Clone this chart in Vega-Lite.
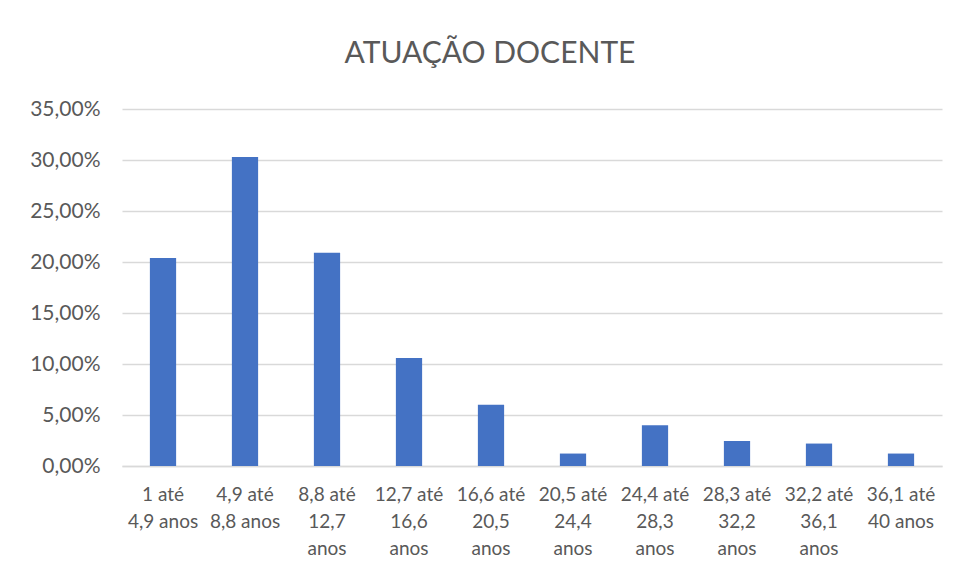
{
  "$schema": "https://vega.github.io/schema/vega-lite/v6.json",
  "autosize": {"type": "none"},
  "width": 820,
  "height": 357,
  "padding": {"left": 122, "top": 109, "right": 18, "bottom": 113},
  "background": "white",
  "title": {
    "text": "ATUAÇÃO DOCENTE",
    "anchor": "middle",
    "font": "Lato",
    "fontSize": 30,
    "fontWeight": "normal",
    "color": "#595959",
    "offset": 29,
    "dx": -42
  },
  "data": {
    "values": [
      {"faixa": "1 até\n4,9 anos", "pct": 0.204},
      {"faixa": "4,9 até\n8,8 anos", "pct": 0.303},
      {"faixa": "8,8 até\n12,7\nanos", "pct": 0.209},
      {"faixa": "12,7 até\n16,6\nanos", "pct": 0.106},
      {"faixa": "16,6 até\n20,5\nanos", "pct": 0.060},
      {"faixa": "20,5 até\n24,4\nanos", "pct": 0.0122},
      {"faixa": "24,4 até\n28,3\nanos", "pct": 0.040},
      {"faixa": "28,3 até\n32,2\nanos", "pct": 0.0245},
      {"faixa": "32,2 até\n36,1\nanos", "pct": 0.022},
      {"faixa": "36,1 até\n40 anos", "pct": 0.0122}
    ]
  },
  "mark": {"type": "bar", "color": "#4472C4"},
  "encoding": {
    "x": {
      "field": "faixa",
      "type": "nominal",
      "sort": null,
      "scale": {"paddingInner": 0.68, "paddingOuter": 0.34},
      "axis": {
        "title": null,
        "labelAngle": 0,
        "labelExpr": "split(datum.label, '\\n')",
        "labelFont": "Lato",
        "labelFontSize": 19,
        "labelColor": "#595959",
        "labelLineHeight": 27,
        "labelPadding": 19,
        "labelBaseline": "top",
        "labelOverlap": false,
        "ticks": false,
        "domainColor": "#d9d9d9",
        "domainWidth": 1.5
      }
    },
    "y": {
      "field": "pct",
      "type": "quantitative",
      "scale": {"domain": [0, 0.35], "nice": false},
      "axis": {
        "title": null,
        "values": [0, 0.05, 0.1, 0.15, 0.2, 0.25, 0.3, 0.35],
        "labelExpr": "replace(format(datum.value, '.2%'), '.', ',')",
        "labelFont": "Lato",
        "labelFontSize": 21,
        "labelColor": "#595959",
        "labelPadding": 22,
        "ticks": false,
        "domain": false,
        "gridColor": "#d9d9d9",
        "gridWidth": 1.5
      }
    }
  },
  "config": {"view": {"stroke": null}}
}
